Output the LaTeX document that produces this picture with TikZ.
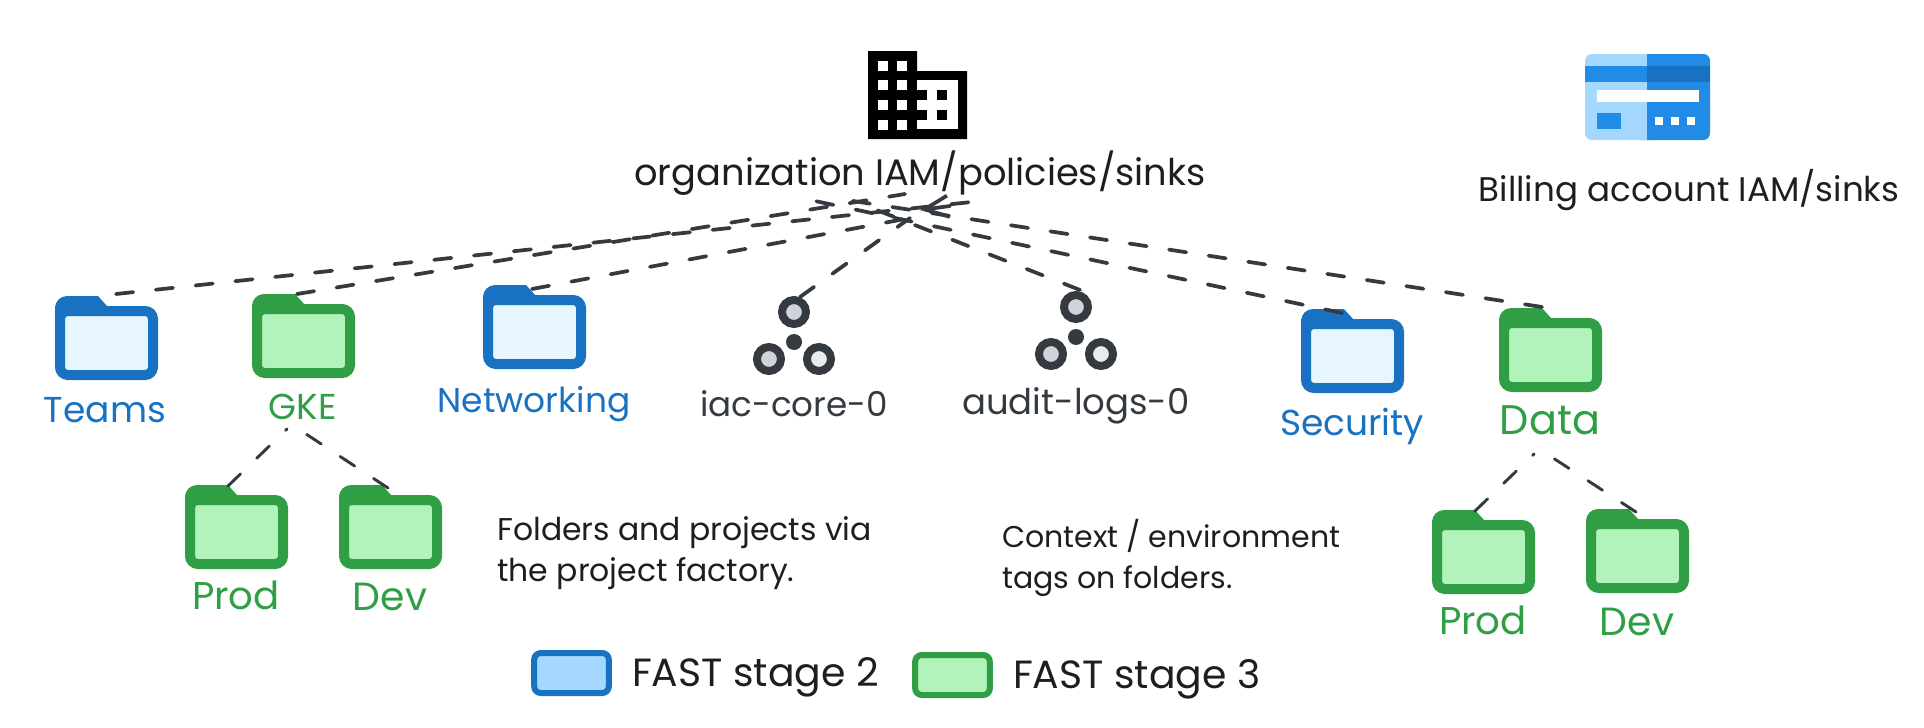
\documentclass[tikz,border=0pt]{standalone}
\usepackage{xcolor}
\usepackage{fontspec}
\setmainfont{Poppins}
\usetikzlibrary{arrows.meta,positioning}
\definecolor{ink}{HTML}{1E1E1E}
\definecolor{dashc}{HTML}{343A40}
\definecolor{st2}{HTML}{1971C2}
\definecolor{st2pale}{HTML}{E7F5FF}
\definecolor{st2soft}{HTML}{A5D8FF}
\definecolor{st3}{HTML}{2F9E44}
\definecolor{st3soft}{HTML}{B2F2BB}
\definecolor{cardmid}{HTML}{228BE6}
\definecolor{projgray}{HTML}{CED4DA}
\definecolor{projpale}{HTML}{E9ECEF}
\tikzset{
  folderbody/.style={rectangle, rounded corners=6pt, line width=7.5pt, minimum width=69.75pt, minimum height=48pt, inner sep=0pt},
  ringnode/.style={circle, draw=dashc, line width=6pt, minimum size=18pt, inner sep=0pt},
  swatch/.style={rectangle, rounded corners=5pt, line width=4.5pt, minimum width=56pt, minimum height=30pt, inner sep=0pt},
  dep/.style={dashc, line width=2.8pt, line cap=round, dash pattern=on 13pt off 17pt},
  subdep/.style={dep, line width=2.2pt},
  txt/.style={font=\fontsize{#1}{#1}\selectfont, text=ink, inner sep=0pt},
  notetxt/.style={font=\fontsize{#1}{31}\selectfont, text=ink, align=left, anchor=west, inner sep=0pt},
}
\newcommand{\folder}[5]{%
  \fill[#4] (#2-51.5,#3-50) -- (#2-51.5,#3-74) [rounded corners=9pt] -- (#2-51.5,#3-84) [sharp corners] -- (#2-8.5,#3-84) -- (#2+0.5,#3-74) -- (#2+0.5,#3-50) -- cycle;
  \node[folderbody, draw=#4, fill=#5] (#1) at (#2,#3-37) {};}
\newcommand{\project}[3]{%
  \node[ringnode, fill=projgray] (#1) at (#2,#3) {};
  \node[ringnode, fill=projgray] (#1left) at (#2-25,#3+47) {};
  \node[ringnode, fill=projpale] (#1right) at (#2+25,#3+47) {};
  \fill[dashc] (#2,#3+30) circle (6pt);}
\begin{document}
\begin{tikzpicture}[x=0.75pt,y=-0.75pt]
  \useasboundingbox (0,0) rectangle (1924,728);
  % organization
  \fill[black] (868,51) -- (917,51) -- (917,71) -- (967,71) -- (967,139) -- (868,139) -- cycle;
  \fill[white] (917,80) rectangle (958,129);
  \foreach \y in {61,80,100,120} {
    \fill[white] (878,\y) rectangle +(10,10);
    \fill[white] (897,\y) rectangle +(10,10);
  }
  \foreach \y in {90,110} {
    \fill[black] (917,\y) rectangle +(10,10);
    \fill[black] (937,\y) rectangle +(10,10);
  }
  \node[txt=27.6] (orglabel) at (920,173) {organization IAM/policies/sinks};
  % billing card
  \fill[st2soft, rounded corners=5pt] (1585,54) rectangle (1660,140);
  \fill[cardmid, rounded corners=5pt] (1635,54) rectangle (1710,140);
  \fill[st2soft] (1620,54) rectangle (1647,140);
  \fill[cardmid] (1647,54) rectangle (1670,140);
  \fill[cardmid] (1585,66) rectangle (1647,82);
  \fill[st2] (1647,66) rectangle (1710,82);
  \fill[white] (1597,90) rectangle (1699,102);
  \fill[cardmid] (1597,113) rectangle (1621,129);
  \foreach \x in {1655,1671,1687} \fill[white] (\x,117) rectangle +(8,8);
  \node[txt=25.6] (billlabel) at (1689,190) {Billing account IAM/sinks};
  % folders
  \folder{teams}{106.5}{380}{st2}{st2pale}
  \folder{gke}{303.5}{378}{st3}{st3soft}
  \folder{gkeprod}{236.5}{569}{st3}{st3soft}
  \folder{gkedev}{390.5}{569}{st3}{st3soft}
  \folder{networking}{534.5}{369}{st2}{st2pale}
  \folder{security}{1352.5}{393}{st2}{st2pale}
  \folder{data}{1550.5}{392}{st3}{st3soft}
  \folder{dataprod}{1483.5}{594}{st3}{st3soft}
  \folder{datadev}{1637.5}{593}{st3}{st3soft}
  \project{iac}{794}{312}
  \project{audit}{1076}{307}
  \foreach \nm/\x/\y/\txt/\col/\sz in {lteams/105/410/Teams/st2/27, lgke/303/407/GKE/st3/27, lnet/534/404/Networking/st2/25.8, lsec/1352/426/Security/st2/27, ldata/1550/420/Data/st3/31, lgprod/236/595/Prod/st3/29, lgdev/390/597/Dev/st3/29.5, ldprod/1483/620/Prod/st3/29, lddev/1637/622/Dev/st3/29.5, liac/794/404/iac-core-0/dashc/25.6, laudit/1076/406/audit-logs-0/dashc/26.6}
    \node[txt=\sz, text=\col] (\nm) at (\x,\y) {\txt};
  \node[notetxt=23.6] (note1) at (497,553) {Folders and projects via\\the project factory.};
  \node[notetxt=22.5] (note2) at (1002,558) {Context / environment\\tags on folders.};
  % links
  \foreach \nm/\x/\y in {fteams/116/294, fgke/297/294, fnet/532/289, fiac/800/297, faudit/1080/290, fsec/1342/313, fdata/1542/307, tteams/990/200, tgke/905/194, tnet/910/218, tiac/910/218, taudit/869/207, tsec/815/201, tdata/840/199, fgp/228/486, fgd/388/488, fdp/1475/511, fdd/1636/512, tgp/287/429, tgd/303/432, tdp/1534/454, tdd/1550/456, harrow/950/206, tarrow/920/210}
    \coordinate (\nm) at (\x,\y);
  \foreach \a/\b in {fteams/tteams, fgke/tgke, fnet/tnet, fiac/tiac, faudit/taudit, fsec/tsec, fdata/tdata}
    \draw[dep] (\a) -- (\b);
  \draw[dashc, line width=2.8pt, line cap=round, -{Straight Barb[length=18pt,width=16pt]}] (harrow) -- (tarrow);
  \foreach \a/\b in {fgp/tgp, fgd/tgd, fdp/tdp, fdd/tdd}
    \draw[subdep] (\a) -- (\b);
  % legend
  \node[swatch, draw=st2, fill=st2soft] (leg2) at (571.5,673) {};
  \node[txt=29.5, right=15pt of leg2, yshift=-3pt] (leg2txt) {FAST stage 2};
  \node[swatch, draw=st3, fill=st3soft] (leg3) at (952.5,675) {};
  \node[txt=29.5, right=15pt of leg3, yshift=-3pt] (leg3txt) {FAST stage 3};
\end{tikzpicture}
\end{document}
